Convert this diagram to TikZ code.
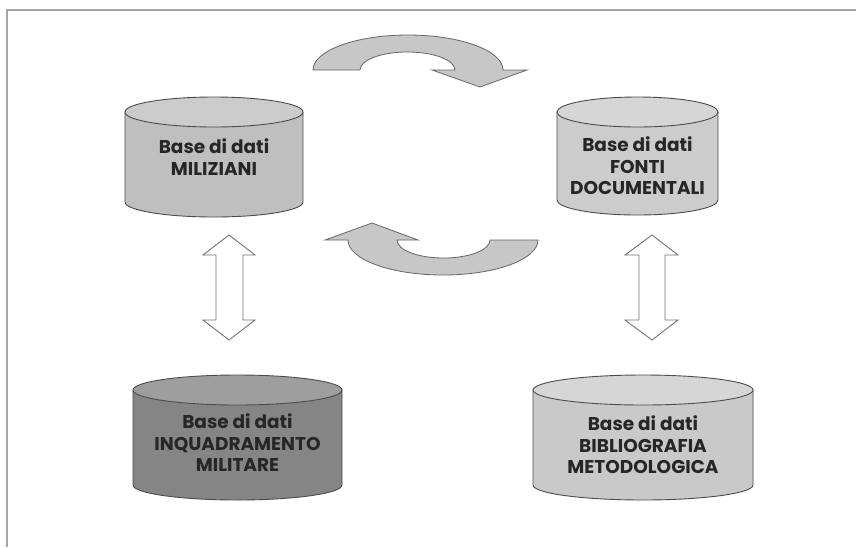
\documentclass[tikz,border=0pt]{standalone}
\usepackage{fontspec}
\setmainfont{Poppins}
\begin{document}
\begin{tikzpicture}[x=1pt,y=-1pt,
  cyl/.style={draw=black!70, line width=0.9pt},
  lbl/.style={font=\bfseries\fontsize{18.5}{21.5}\selectfont, align=center, text=black!85},
  bentarrow/.style={draw=black!60, fill=black!22, line width=0.8pt, line join=miter},
  dbl/.style={draw=black!55, fill=white, line width=0.9pt, line join=miter}]
\useasboundingbox (0,0) rectangle (856,547);
\fill[white] (0,0) rectangle (856,547);
\draw[black!35, line width=1.2pt] (7,547) -- (7,10) -- (856,10);

% Cyl 1 MILIZIANI
\path[cyl, fill=black!25] (125,112) -- (125,202) arc[start angle=180,end angle=0,x radius=89,y radius=15] -- (303,112) -- cycle;
\path[cyl, fill=black!20] (214,112) ellipse[x radius=89,y radius=15];
\node[lbl] (mil) at (214,157) {Base di dati\\MILIZIANI};

% Cyl 2 FONTI
\path[cyl, fill=black!20] (557,112) -- (557,200) arc[start angle=180,end angle=0,x radius=80.5,y radius=15] -- (718,112) -- cycle;
\path[cyl, fill=black!16] (637.5,112) ellipse[x radius=80.5,y radius=15];
\node[lbl] (fon) at (637.5,166) {Base di dati\\FONTI\\DOCUMENTALI};

% Cyl 3 INQUADRAMENTO
\path[cyl, fill=black!48] (133,390) -- (133,485) arc[start angle=180,end angle=0,x radius=104.5,y radius=15] -- (342,390) -- cycle;
\path[cyl, fill=black!38] (237.5,390) ellipse[x radius=104.5,y radius=15];
\node[lbl] (inq) at (237.5,443) {Base di dati\\INQUADRAMENTO\\MILITARE};

% Cyl 4 BIBLIOGRAFIA
\path[cyl, fill=black!21] (533,390) -- (533,485) arc[start angle=180,end angle=0,x radius=110,y radius=15] -- (753,390) -- cycle;
\path[cyl, fill=black!16] (643,390) ellipse[x radius=110,y radius=15];
\node[lbl] (bib) at (643,445) {Base di dati\\BIBLIOGRAFIA\\METODOLOGICA};

% curved arrows
\path[bentarrow] (313,70) arc[start angle=180,end angle=360,x radius=95,y radius=35]
  -- (527,70) -- (480,87) -- (432,70) -- (455,70)
  arc[start angle=0,end angle=-180,x radius=47.5,y radius=18] -- cycle;
\path[bentarrow] (372,223) -- (418,240) -- (397,240)
  arc[start angle=180,end angle=0,x radius=46.5,y radius=18]
  -- (538,240) arc[start angle=0,end angle=180,x radius=95,y radius=35]
  -- (325,240) -- cycle;

% double arrows
\path[dbl] (229,235) -- (255,255) -- (243,255) -- (243,320) -- (255,320) -- (229,340)
  -- (203,320) -- (216,320) -- (216,255) -- (203,255) -- cycle;
\path[dbl] (652,235) -- (678,255) -- (665,255) -- (665,320) -- (678,320) -- (652,340)
  -- (625,320) -- (639,320) -- (639,255) -- (625,255) -- cycle;
\end{tikzpicture}
\end{document}
